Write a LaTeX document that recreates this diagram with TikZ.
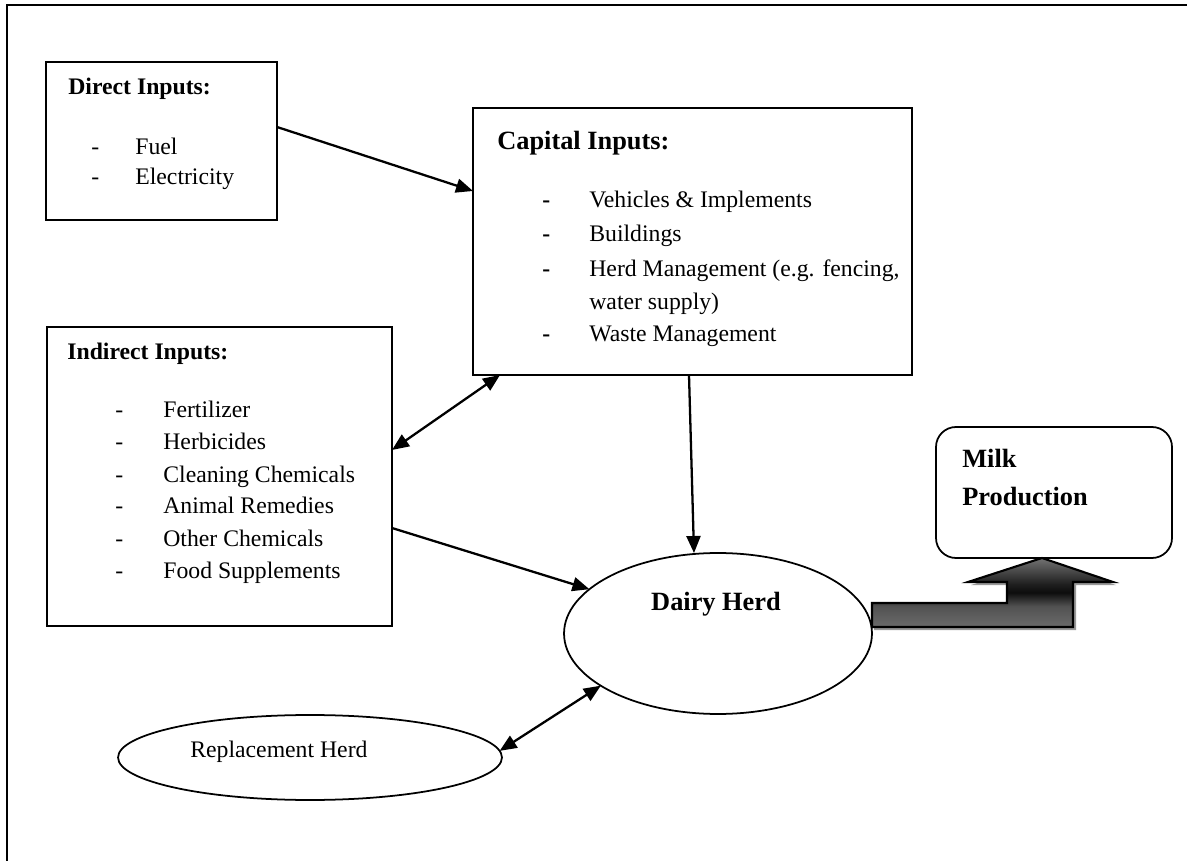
\documentclass[tikz,border=0pt]{standalone}
\usepackage{fontspec}
\setmainfont{Liberation Serif}
\usetikzlibrary{arrows.meta,shapes.geometric,fit}
\pgfdeclareverticalshading{blockarrowshade}{100bp}{color(0bp)=(black!58); color(25bp)=(black!58); color(40bp)=(black!68); color(50bp)=(black!95); color(56bp)=(black!88); color(75bp)=(black!55); color(100bp)=(black!55)}
\begin{document}
\begin{tikzpicture}[x=0.02cm,y=-0.02cm,
 box/.style={draw, line width=1pt, inner sep=0pt, outer sep=0pt},
 oval/.style={draw, ellipse, line width=1pt, inner sep=0pt, outer sep=0pt},
 txt/.style={font=\fontsize{13.5}{16}\selectfont, anchor=base west, inner sep=0pt},
 ttl/.style={font=\fontsize{13.5}{16}\selectfont\bfseries, anchor=base west, inner sep=0pt},
 big/.style={font=\fontsize{15}{18}\selectfont\bfseries, inner sep=0pt},
 conn/.style={line width=1.3pt, -{Triangle[length=0.34cm,width=0.28cm]}},
 dconn/.style={line width=1.3pt, {Triangle[length=0.34cm,width=0.28cm]}-{Triangle[length=0.34cm,width=0.28cm]}},
]
\useasboundingbox (0,0) rectangle (1187,861);
% outer frame
\draw[line width=1.1pt] (7,861) -- (7,5) -- (1187,5);

% boxes
\node[box, fit={(46,62) (277,220)}] (direct) {};
\node[box, fit={(473,108) (912,375)}] (capital) {};
\node[box, fit={(47,327) (392,626)}] (indirect) {};
\node[box, rounded corners=0.4cm, fit={(936,427) (1172,558)}] (milk) {};
\node[oval, minimum width=6.16cm, minimum height=3.22cm] (dairy) at (718,633.5) {};
\node[oval, minimum width=7.68cm, minimum height=1.7cm] (repl) at (310,757.5) {};

% Direct inputs text
\node[ttl] (dt) at (68,95) {Direct Inputs:};
\node[txt] (dd1) at (91,155) {-};
\node[txt] (di1) at (135,155) {Fuel};
\node[txt] (dd2) at (91,185) {-};
\node[txt] (di2) at (135,185) {Electricity};

% Capital inputs text
\node[big, anchor=base west] (ct) at (497,150) {Capital Inputs:};
\node[ttl] (cd1) at (542,208) {-};
\node[txt] (ci1) at (589,208) {Vehicles \& Implements};
\node[ttl] (cd2) at (542,242) {-};
\node[txt] (ci2) at (589,242) {Buildings};
\node[ttl] (cd3) at (542,277) {-};
\node[txt] (ci3) at (589,277) {Herd Management (e.g. fencing,};
\node[txt] (ci3b) at (589,310) {water supply)};
\node[ttl] (cd4) at (542,342) {-};
\node[txt] (ci4) at (589,342) {Waste Management};

% Indirect inputs text
\node[ttl] (it) at (67,360) {Indirect Inputs:};
\foreach \t [count=\i from 0] in {Fertilizer,Herbicides,Cleaning Chemicals,Animal Remedies,Other Chemicals,Food Supplements}{
  \node[txt] (idash\i) at (115,418+32*\i) {-};
  \node[txt] (iitem\i) at (163,418+32*\i) {\t};
}

% Milk production text
\node[big, anchor=base west] (mt1) at (962,468) {Milk};
\node[big, anchor=base west] (mt2) at (962,505) {Production};

% Dairy / replacement text
\node[big, anchor=base] (dairyt) at (716,610) {Dairy Herd};
\node[txt] (replt) at (190,757) {Replacement Herd};

% connectors
\draw[conn] (direct.east |- 0,127) -- (capital.west |- 0,191);
\draw[dconn] (500,0 |- capital.south) -- (indirect.east |- 0,450);
\draw[conn] (689,0 |- capital.south) -- (694,0 |- dairy.north);
\draw[conn] (indirect.east |- 0,528) -- (dairy.161);
\draw[dconn] (repl.2) -- (dairy.204);

% bent block arrow to milk production
\fill[gray!80, shift={(3,3)}] (871,627) -- (871,603) -- (1007,603) -- (1007,582) -- (968,582) -- (1042,559) -- (1113,582) -- (1073,582) -- (1073,627) -- cycle;
\path[shading=blockarrowshade]
  (dairy.east |- 0,627) -- (dairy.east |- 0,603) -- (1007,603) -- (1007,582) -- (968,582) -- (milk.south -| 1042,0) -- (1113,582) -- (1073,582) -- (1073,627) -- cycle;
\draw[line width=1.2pt, line join=miter]
  (dairy.east |- 0,627) -- (dairy.east |- 0,603) -- (1007,603) -- (1007,582) -- (968,582) -- (milk.south -| 1042,0) -- (1113,582) -- (1073,582) -- (1073,627) -- cycle;
\end{tikzpicture}
\end{document}
